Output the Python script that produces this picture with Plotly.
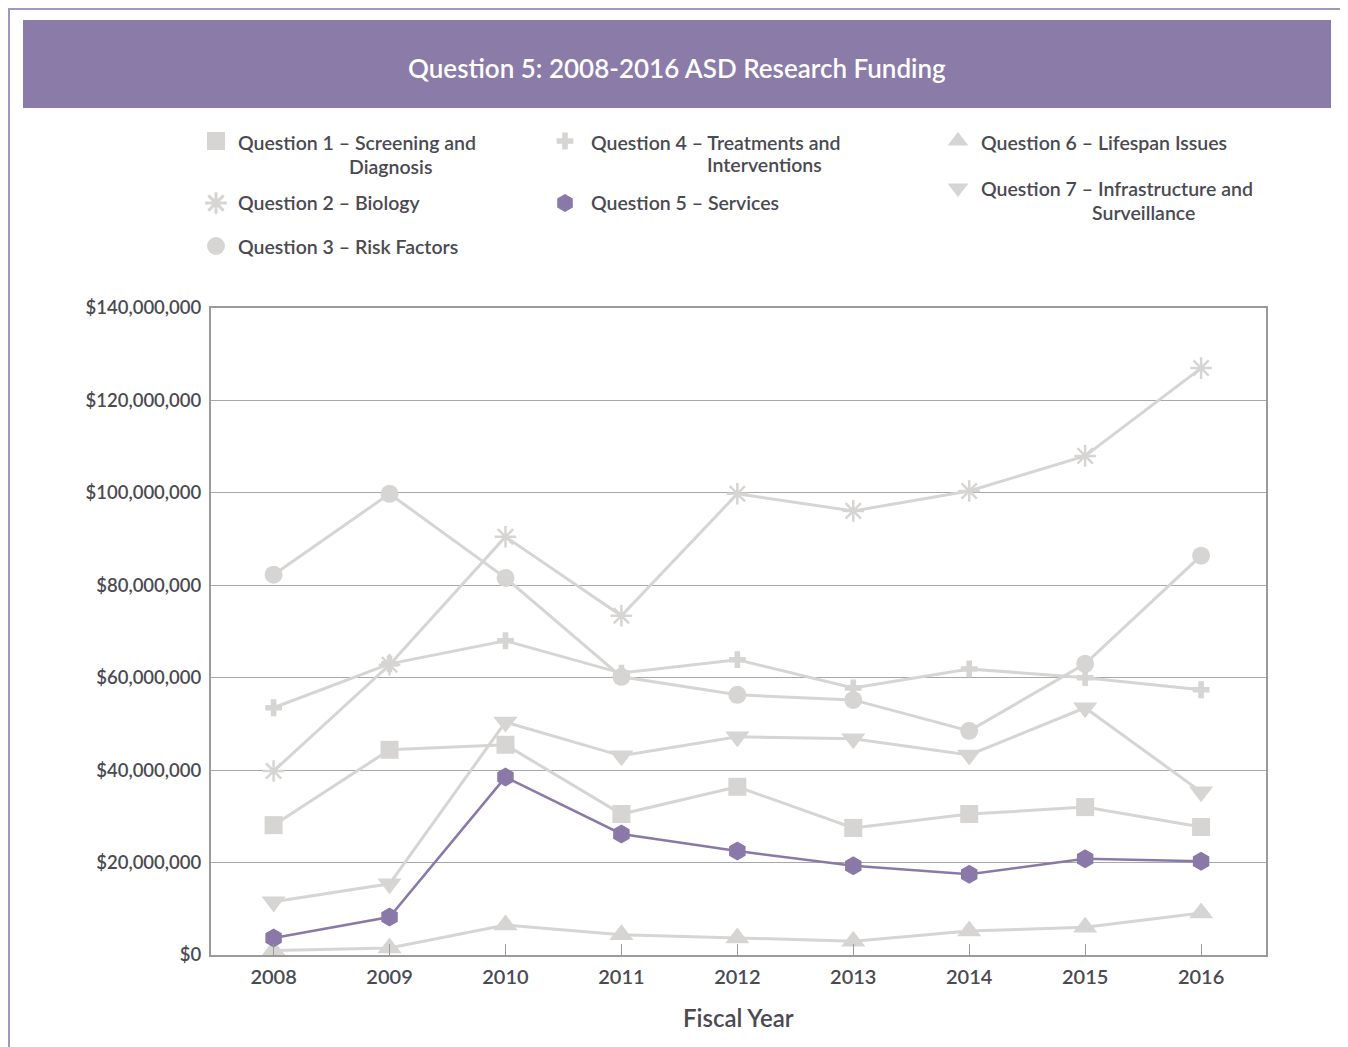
import plotly.graph_objects as go

W, H = 1348, 1047
# the page is drawn with an 8px body margin, so target pixels are shifted back by it
OX, OY = 8, 8


def px(x):
    return (x - OX) / W


def py(y):
    return 1 - (y - OY) / H


years = [2008, 2009, 2010, 2011, 2012, 2013, 2014, 2015, 2016]

# funding in millions of dollars
q1_screening = [28.1, 44.4, 45.5, 30.5, 36.4, 27.5, 30.5, 32.0, 27.7]
q2_biology = [39.8, 62.8, 90.5, 73.4, 99.8, 96.1, 100.4, 108.0, 127.0]
q3_risk = [82.3, 99.8, 81.6, 60.2, 56.3, 55.2, 48.5, 63.0, 86.4]
q4_treatments = [53.5, 63.0, 68.0, 61.0, 63.9, 57.8, 61.9, 60.0, 57.4]
q5_services = [3.7, 8.2, 38.5, 26.2, 22.5, 19.3, 17.5, 20.8, 20.3]
q6_lifespan = [1.0, 1.5, 6.5, 4.4, 3.7, 3.0, 5.2, 6.0, 9.1]
q7_infra = [11.5, 15.4, 50.4, 43.1, 47.2, 46.8, 43.3, 53.5, 35.3]

GRAY = "#d6d5d3"
PURPLE = "#8a79a8"
TEXT = "#4a4a52"
FONT = "Lato"

series = [
    ("Question 1 – Screening and", "Diagnosis", q1_screening, "square", 18, GRAY),
    ("Question 2 – Biology", None, q2_biology, "asterisk-open", 18, GRAY),
    ("Question 3 – Risk Factors", None, q3_risk, "circle", 18, GRAY),
    ("Question 4 – Treatments and", "Interventions", q4_treatments, "cross", 14, GRAY),
    ("Question 6 – Lifespan Issues", None, q6_lifespan, "triangle-up", 21, GRAY),
    ("Question 7 – Infrastructure and", "Surveillance", q7_infra, "triangle-down", 21, GRAY),
    ("Question 5 – Services", None, q5_services, "hexagon", 19, PURPLE),
]

fig = go.Figure()
for name, _, vals, sym, size, col in series:
    is_open = sym.endswith("-open")
    fig.add_trace(go.Scatter(
        x=years, y=[v * 1e6 for v in vals], name=name, mode="lines+markers",
        line=dict(color=col, width=2.5 if col == PURPLE else 3),
        marker=dict(symbol=sym, size=size, color=col,
                    line=dict(color=col, width=2.5 if is_open else 0)),
        cliponaxis=False, showlegend=False, xaxis="x", yaxis="y",
    ))

# hand-built legend: markers on an overlay axis in pixel units, text as annotations
legend_pos = {
    "Question 1 – Screening and": (216, 141, 236, 142, 347, 166),
    "Question 2 – Biology": (216, 203, 236, 203, None, None),
    "Question 3 – Risk Factors": (216, 246, 236, 246, None, None),
    "Question 4 – Treatments and": (565, 141, 589, 142, 705, 164),
    "Question 5 – Services": (565, 203, 589, 203, None, None),
    "Question 6 – Lifespan Issues": (958, 141, 979, 142, None, None),
    "Question 7 – Infrastructure and": (958, 188, 979, 188, 1090, 212),
}
legend_font = dict(family=FONT, size=19.5, color=TEXT, weight=600)
annotations = []
for name, line2, _, sym, size, col in series:
    mx, my, tx, ty, t2x, t2y = legend_pos[name]
    is_open = sym.endswith("-open")
    fig.add_trace(go.Scatter(
        x=[mx - OX], y=[my - OY], mode="markers", showlegend=False, hoverinfo="skip",
        marker=dict(symbol=sym, size=min(size, 18), color=col,
                    line=dict(color=col, width=3 if is_open else 0)),
        xaxis="x2", yaxis="y2",
    ))
    annotations.append(dict(x=px(tx), y=py(ty), xref="paper", yref="paper",
                            text=name, showarrow=False, xanchor="left", yanchor="middle",
                            font=legend_font))
    if line2:
        annotations.append(dict(x=px(t2x), y=py(t2y), xref="paper", yref="paper",
                                text=line2, showarrow=False, xanchor="left", yanchor="middle",
                                font=legend_font))

# title banner text
annotations.append(dict(x=px(677), y=py(68), xref="paper", yref="paper",
                        text="Question 5: 2008-2016 ASD Research Funding", showarrow=False,
                        xanchor="center", yanchor="middle",
                        font=dict(family=FONT, size=26, color="white", weight=600)))
# x axis title
annotations.append(dict(x=px(738), y=py(1017), xref="paper", yref="paper",
                        text="Fiscal Year", showarrow=False, xanchor="center", yanchor="middle",
                        font=dict(family=FONT, size=24, color=TEXT, weight=600)))

shapes = [
    dict(type="rect", xref="paper", yref="paper", x0=1 / W, x1=px(1345), y0=-0.02, y1=1 - 1 / H,
         line=dict(color="#a497bf", width=2), fillcolor="rgba(0,0,0,0)", layer="below"),
    dict(type="rect", xref="paper", yref="paper", x0=px(23), x1=px(1331), y0=py(108), y1=py(20),
         line=dict(width=0), fillcolor="#8b7ba8", layer="below"),
]

fig.update_layout(
    width=W, height=H,
    margin=dict(l=0, r=0, t=0, b=0, autoexpand=False),
    paper_bgcolor="white", plot_bgcolor="rgba(0,0,0,0)",
    font=dict(family=FONT, color=TEXT),
    annotations=annotations, shapes=shapes,
    xaxis=dict(domain=[px(211), px(1266)], range=[2007.46, 2016.56],
               tickvals=years, ticktext=[str(y) for y in years],
               ticks="inside", ticklen=11, tickwidth=1.2, tickcolor="#9a9a9a",
               showline=True, linecolor="#9a9a9a", linewidth=2, mirror=True,
               showgrid=False, zeroline=False, ticklabelstandoff=3,
               tickfont=dict(family=FONT, size=20, color=TEXT, weight=600),
               anchor="y"),
    yaxis=dict(domain=[py(955), py(308)], range=[0, 140e6], dtick=20e6,
               tickformat="$,.0f", showline=True, linecolor="#9a9a9a", linewidth=2, mirror=True,
               showgrid=True, gridcolor="#a8a8a8", gridwidth=1.2, zeroline=False,
               ticks="", ticklabelstandoff=4,
               tickfont=dict(family=FONT, size=18.5, color=TEXT, weight=600),
               anchor="x"),
    xaxis2=dict(domain=[0, 1], range=[0, W], visible=False, anchor="y2", fixedrange=True),
    yaxis2=dict(domain=[0, 1], range=[H, 0], visible=False, anchor="x2", fixedrange=True),
)

fig.write_html("out.html")
